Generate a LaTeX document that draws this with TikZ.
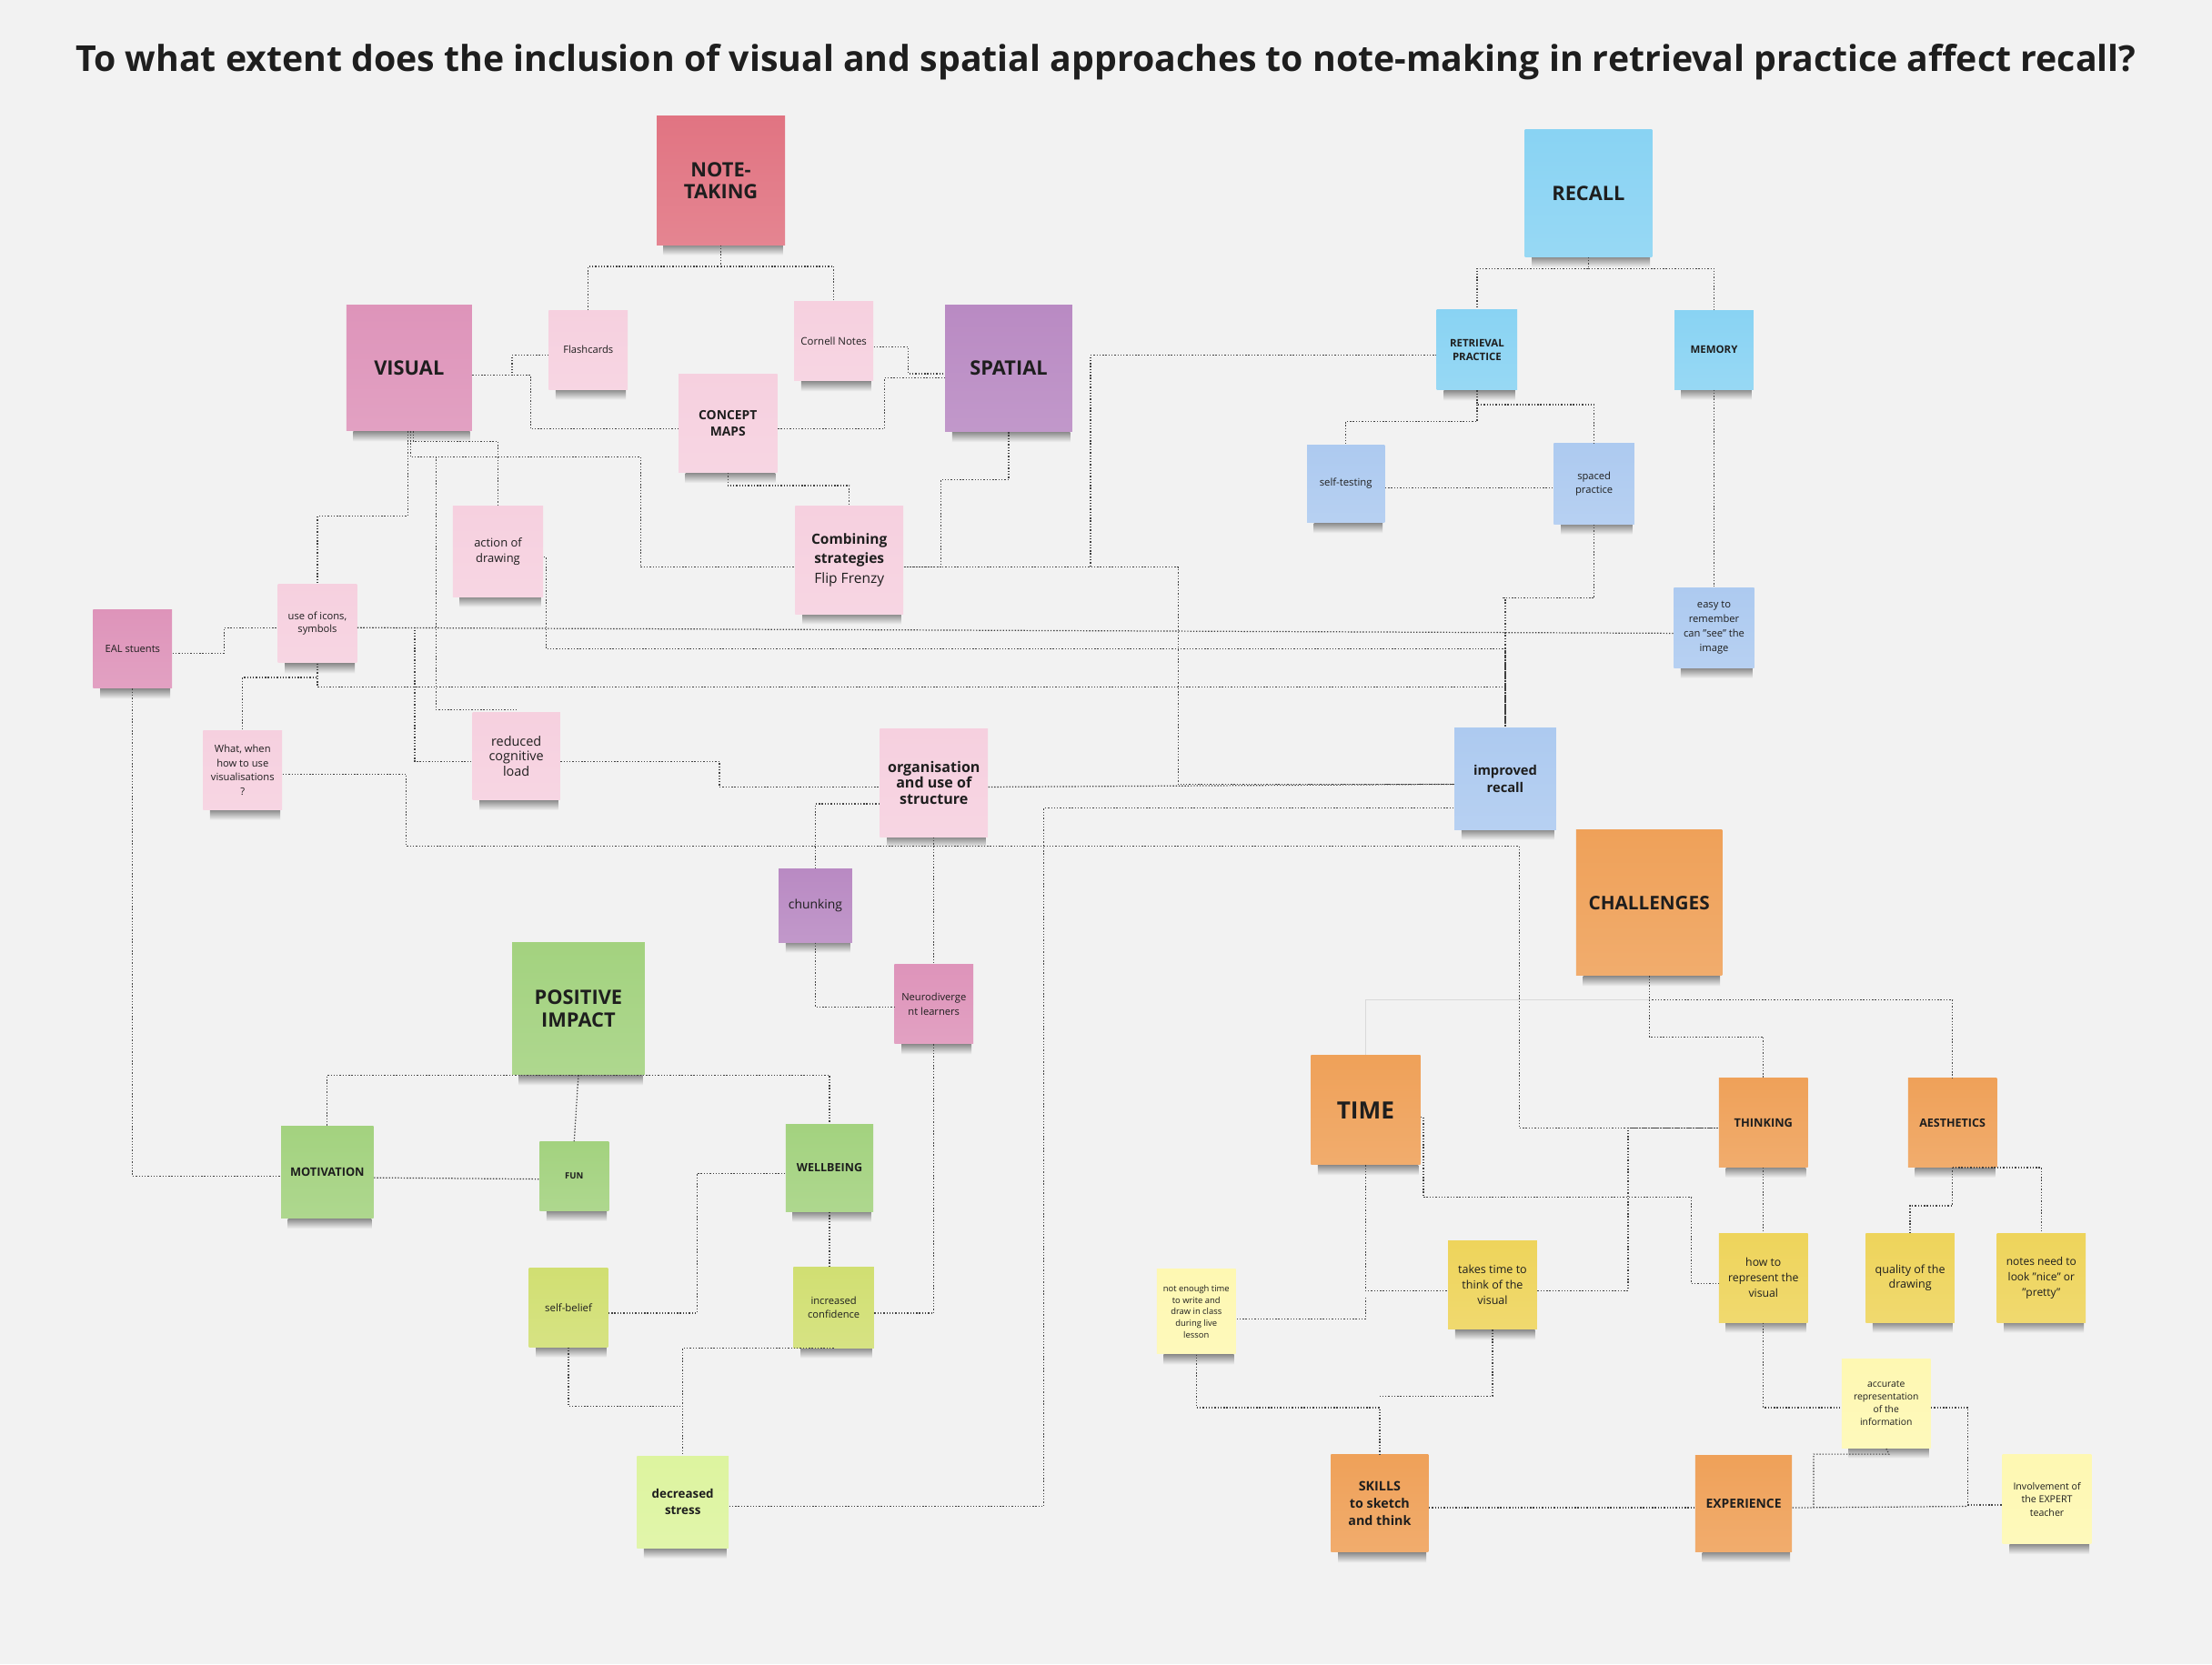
\documentclass[tikz,border=0pt]{standalone}
\usepackage{fontspec}
\setmainfont{Open Sans}
\usepackage{tikz}
\usetikzlibrary{positioning, backgrounds}
\usepackage{xcolor}
\definecolor{bgc}{HTML}{F2F2F2}
\definecolor{ink}{HTML}{1E1E1E}
\definecolor{ntred}{HTML}{E17482}
\definecolor{vispink}{HTML}{DE94BA}
\definecolor{lightpink}{HTML}{F6D0DF}
\definecolor{lilac}{HTML}{B98AC3}
\definecolor{skyblue}{HTML}{89D3F3}
\definecolor{paleblue}{HTML}{ADCAF0}
\definecolor{orange}{HTML}{EFA159}
\definecolor{mustard}{HTML}{EED45B}
\definecolor{paleyellow}{HTML}{FEF8B2}
\definecolor{leaf}{HTML}{A3D27F}
\definecolor{lime}{HTML}{D1DF72}
\definecolor{palelime}{HTML}{DDF49F}
\newcommand{\fs}[2]{\fontsize{#1}{#2}\selectfont}
\pgfdeclarelayer{shadow}
\pgfsetlayers{background,shadow,main}

\begin{document}
\begin{tikzpicture}[x=0.02cm, y=-0.02cm,
    sticky/.style={rectangle, inner sep=1pt, align=center, text=ink,
        top color=#1, bottom color=#1!88!white},
    link/.style={line width=0.45pt, black!75, dash pattern=on 0.5pt off 0.7pt},
    greyline/.style={line width=0.4pt, black!15}]
    \useasboundingbox (0,0) rectangle (1568,1180);
    \begin{pgfonlayer}{background}
        \fill[bgc] (0,0) rectangle (1568,1180);
    \end{pgfonlayer}

    % --- Titre ---
    \node[font=\bfseries\fs{14.4}{17}, text=ink] (title) at (784,44)
        {To what extent does the inclusion of visual and spatial approaches to note-making in retrieval practice affect recall?};

    % --- Note-taking / visual / spatial ---
    \node[sticky=ntred, minimum size=1.82cm, font=\bfseries\fs{8}{9}] (nt) at (511,128) {NOTE-\\TAKING};
    \node[sticky=vispink, minimum size=1.78cm, font=\bfseries\fs{8}{9}] (visual) at (290,261) {VISUAL};
    \node[sticky=lightpink, minimum size=1.12cm, font=\fs{4.1}{5}] (flash) at (417,248) {Flashcards};
    \node[sticky=lightpink, minimum size=1.12cm, font=\fs{4.2}{5}] (cornell) at (591,242) {Cornell Notes};
    \node[sticky=lilac, minimum size=1.8cm, font=\bfseries\fs{8}{9}] (spatial) at (715,261) {SPATIAL};
    \node[sticky=lightpink, minimum size=1.4cm, font=\bfseries\fs{5.1}{6.4}] (concept) at (516,300) {CONCEPT\\MAPS};
    \node[sticky=lightpink, minimum size=1.28cm, font=\fs{4.75}{6.4}] (action) at (353,391) {action of\\drawing};
    \node[sticky=lightpink, minimum size=1.53cm, font=\fs{5.7}{7.8}] (combining) at (602,397)
        {\textbf{Combining}\\\textbf{strategies}\\Flip Frenzy};
    \node[sticky=lightpink, minimum size=1.12cm, font=\fs{4.1}{5.4}] (icons) at (225,442) {use of icons,\\symbols};
    \node[sticky=vispink, minimum size=1.12cm, font=\fs{4.1}{5}] (eal) at (94,460) {EAL stuents};
    \node[sticky=lightpink, minimum size=1.12cm, font=\fs{4.1}{5.7}] (whatwhen) at (172,546)
        {What, when\\how to use\\visualisations\\?};
    \node[sticky=lightpink, minimum size=1.24cm, font=\fs{5.3}{6.1}] (reduced) at (366,536) {reduced\\cognitive\\load};
    \node[sticky=lightpink, minimum size=1.53cm, font=\bfseries\fs{5.9}{6.4}] (organ) at (662,555)
        {organisation\\and use of\\structure};
    \node[sticky=lilac, minimum size=1.04cm, font=\fs{5.1}{6}] (chunking) at (578,642) {chunking};
    \node[sticky=vispink, minimum size=1.12cm, font=\fs{4.1}{5.6}] (neuro) at (662,712) {Neurodiverge\\nt learners};

    % --- Recall ---
    \node[sticky=skyblue, minimum size=1.8cm, font=\bfseries\fs{8}{9}] (recall) at (1126,137) {RECALL};
    \node[sticky=skyblue, minimum size=1.14cm, font=\bfseries\fs{4.2}{5.4}] (retrieval) at (1047,248) {RETRIEVAL\\PRACTICE};
    \node[sticky=skyblue, minimum size=1.12cm, font=\bfseries\fs{4.2}{5}] (memory) at (1215,248) {MEMORY};
    \node[sticky=paleblue, minimum size=1.1cm, font=\fs{4.15}{5}] (selftest) at (954,343) {self-testing};
    \node[sticky=paleblue, minimum size=1.14cm, font=\fs{4.1}{5.6}] (spaced) at (1130,343) {spaced\\practice};
    \node[sticky=paleblue, minimum size=1.14cm, font=\fs{4.1}{5.8}] (easy) at (1215,445)
        {easy to\\remember\\can "see" the\\image};
    \node[sticky=paleblue, minimum size=1.44cm, font=\bfseries\fs{5.4}{7}] (improved) at (1067,552) {improved\\recall};

    % --- Challenges ---
    \node[sticky=orange, minimum size=2.07cm, font=\bfseries\fs{7.6}{9}] (challenges) at (1169,640) {CHALLENGES};
    \node[sticky=orange, minimum size=1.55cm, font=\bfseries\fs{9.6}{11}] (time) at (968,787) {TIME};
    \node[sticky=orange, minimum size=1.26cm, font=\bfseries\fs{4.7}{5.6}] (thinking) at (1250,796) {THINKING};
    \node[sticky=orange, minimum size=1.26cm, font=\bfseries\fs{4.6}{5.6}] (aesthetics) at (1384,796) {AESTHETICS};
    \node[sticky=paleyellow, minimum width=1.12cm, minimum height=1.2cm, font=\fs{3.45}{4.7}] (notenough) at (848,930)
        {not enough time\\to write and\\draw in class\\during live\\lesson};
    \node[sticky=mustard, minimum size=1.26cm, font=\fs{4.6}{6.2}] (takestime) at (1058,911) {takes time to\\think of the\\visual};
    \node[sticky=mustard, minimum size=1.26cm, font=\fs{4.5}{6.2}] (howto) at (1250,906) {how to\\represent the\\visual};
    \node[sticky=mustard, minimum size=1.26cm, font=\fs{4.6}{6.2}] (quality) at (1354,906) {quality of the\\drawing};
    \node[sticky=mustard, minimum size=1.26cm, font=\fs{4.4}{6.2}] (notesneed) at (1447,906) {notes need to\\look "nice" or\\"pretty"};
    \node[sticky=paleyellow, minimum size=1.26cm, font=\fs{3.8}{5.2}] (accurate) at (1337,995)
        {accurate\\representation\\of the\\information};
    \node[sticky=orange, minimum size=1.38cm, font=\bfseries\fs{5.25}{7}] (skills) at (978,1066) {SKILLS\\to sketch\\and think};
    \node[sticky=orange, minimum size=1.37cm, font=\bfseries\fs{5.1}{6}] (experience) at (1236,1066) {EXPERIENCE};
    \node[sticky=paleyellow, minimum size=1.26cm, font=\fs{3.9}{5.3}] (involvement) at (1451,1063)
        {Involvement of\\the EXPERT\\teacher};

    % --- Positive impact ---
    \node[sticky=leaf, minimum size=1.88cm, font=\bfseries\fs{8}{9}] (positive) at (410,715) {POSITIVE\\IMPACT};
    \node[sticky=leaf, minimum size=1.31cm, font=\bfseries\fs{4.7}{5.6}] (motivation) at (232,831) {MOTIVATION};
    \node[sticky=leaf, minimum size=0.98cm, font=\bfseries\fs{3.5}{4.2}] (fun) at (407,834) {FUN};
    \node[sticky=leaf, minimum size=1.24cm, font=\bfseries\fs{4.6}{5.6}] (wellbeing) at (588,828) {WELLBEING};
    \node[sticky=lime, minimum size=1.12cm, font=\fs{4.2}{5}] (selfbelief) at (403,927) {self-belief};
    \node[sticky=lime, minimum size=1.14cm, font=\fs{4.1}{5.6}] (confidence) at (591,927) {increased\\confidence};
    \node[sticky=palelime, minimum size=1.3cm, font=\bfseries\fs{4.9}{6.6}] (stress) at (484,1065) {decreased\\stress};

    % ombres sous les notes
    \begin{pgfonlayer}{shadow}
        \foreach \n in {nt,visual,flash,cornell,spatial,concept,action,combining,icons,eal,
                whatwhen,reduced,organ,chunking,neuro,recall,retrieval,memory,selftest,spaced,
                easy,improved,challenges,time,thinking,aesthetics,notenough,takestime,howto,
                quality,notesneed,accurate,skills,experience,involvement,positive,motivation,
                fun,wellbeing,selfbelief,confidence,stress}{
            \shade[top color=black!45, bottom color=bgc]
                ([xshift=3pt]\n.south west) rectangle ([xshift=-1pt,yshift=-4pt]\n.south east);
        }
    \end{pgfonlayer}

    % --- Liens : note-taking ---
    \draw[link] (nt.south) -- ++(0,15) -| (flash.north);
    \draw[link] (nt.south) ++(0,15) -| (cornell.north);
    \draw[link] (visual.east |- 0,266) -| (363,252) -- (flash.west |- 0,252);
    \draw[link] (visual.east |- 0,266) -| (376,304) -- (concept.west |- 0,304);
    \draw[link] (cornell.east |- 0,246) -| (644,265) -- (spatial.west |- 0,265);
    \draw[link] (concept.east |- 0,304) -| (627,268) -- (spatial.west |- 0,268);
    \draw[link] (concept.south) -- ++(0,9) -| (combining.north);
    \draw[link] (spatial.south) |- (667,340) |- (combining.east |- 0,402);
    \draw[link] (combining.east |- 0,402) -| (773,252) -- (retrieval.west |- 0,252);
    \draw[link] (combining.east |- 0,402) -| (835,556) -- (improved.west |- 0,556);

    % visual vers le bas
    \draw[link] (visual.south -| 289,0) |- (225,366) -- (icons.north);
    \draw[link] (visual.south -| 293,0) |- (353,313) -- (action.north);
    \draw[link] (visual.south -| 291,0) |- (454,324) |- (combining.west |- 0,402);
    \draw[link] (visual.south -| 291,0) |- (309,324) |- (366,503) -- (reduced.north);

    % icons, EAL, what/when
    \draw[link] (eal.east |- 0,463) -| (159,445) -- (icons.west |- 0,445);
    \draw[link] (icons.east |- 0,445) -- (easy.west |- 0,449);
    \draw[link] (icons.east |- 0,445) -| (294,540) -- (reduced.west |- 0,540);
    \draw[link] (icons.south) -- ++(0,10) -| (whatwhen.north);
    \draw[link] (icons.south) |- (improved.north |- 0,487) -- (improved.north);
    \draw[link] (action.east |- 0,395) -| (387,460) -| (improved.north);
    \draw[link] (whatwhen.east |- 0,549) -| (288,600) -| (1077,800) -- (thinking.west |- 0,800);
    \draw[link] (eal.south) |- (motivation.west |- 0,834);

    % organisation
    \draw[link] (reduced.east |- 0,540) -| (510,558) -- (organ.west |- 0,558);
    \draw[link] (organ.east |- 0,558) -- (improved.west |- 0,556);
    \draw[link] (organ.west |- 0,570) -| (chunking.north);
    \draw[link] (organ.south) -- (neuro.north);
    \draw[link] (chunking.south) |- (neuro.west |- 0,714);
    \draw[link] (neuro.south) |- (confidence.east |- 0,931);
    \draw[link] (stress.east |- 0,1068) -| (740,573) -- (improved.west |- 0,573);

    % --- Liens : recall ---
    \draw[link] (recall.south) -- ++(0,8) -| (retrieval.north);
    \draw[link] (recall.south) ++(0,8) -| (memory.north);
    \draw[link] (retrieval.south) -- ++(0,10) -| (spaced.north);
    \draw[link] (retrieval.south) ++(0,10) -- ++(0,12) -| (selftest.north);
    \draw[link] (selftest.east |- 0,346) -- (spaced.west |- 0,346);
    \draw[link] (spaced.south) |- (1065,424) -| (improved.north);
    \draw[link] (memory.south) -- (easy.north);

    % --- Liens : positive impact ---
    \draw[link] (motivation.north) |- (positive.south) -| (wellbeing.north);
    \draw[link] (positive.south) -- (fun.north);
    \draw[link] (motivation.east |- 0,835) -- (fun.west |- 0,836);
    \draw[link] (wellbeing.west |- 0,832) -| (494,931) -- (selfbelief.east |- 0,931);
    \draw[link] (wellbeing.south) -- (wellbeing.south |- confidence.north);
    \draw[link] (confidence.south) -| (stress.north);
    \draw[link] (selfbelief.south) |- (stress.north |- 0,997);

    % --- Liens : challenges ---
    \draw[greyline] (challenges.south) ++(0,17) -| (time.north);
    \draw[link] (challenges.south) -- ++(0,17) -| (aesthetics.north);
    \draw[link] (challenges.south) ++(0,17) -- ++(0,26) -| (thinking.north);
    \draw[link] (time.east |- 0,792) -| (1009,849) -| (1199,910) -- (howto.west |- 0,910);
    \draw[link] (time.south) |- (takestime.west |- 0,915);
    \draw[link] (time.south) ++(0,94) |- (notenough.east |- 0,935);
    \draw[link] (takestime.east |- 0,915) -| (1154,800) -- (thinking.west |- 0,800);
    \draw[link] (thinking.south) -- (howto.north);
    \draw[link] (aesthetics.south) ++(0,0) -- ++(0,27) -| (quality.north);
    \draw[link] (aesthetics.south) -- ++(63,0) -- (notesneed.north);
    \draw[link] (howto.south) |- (accurate.west |- 0,998);
    \draw[link] (accurate.east |- 0,998) -| (1395,1067) -- (involvement.west |- 0,1067);
    \draw[link] (experience.east |- 0,1069) -- (1395,1068);
    \draw[link] (experience.east |- 0,1069) ++(15,0) |- (1339,1031) -- (accurate.south);
    \draw[link] (notenough.south) |- (skills.north |- 0,998) -- (skills.north);
    \draw[link] (takestime.south) |- (skills.north |- 0,990);
    \draw[link] (skills.east |- 0,1069) -- (experience.west |- 0,1069);
\end{tikzpicture}
\end{document}
